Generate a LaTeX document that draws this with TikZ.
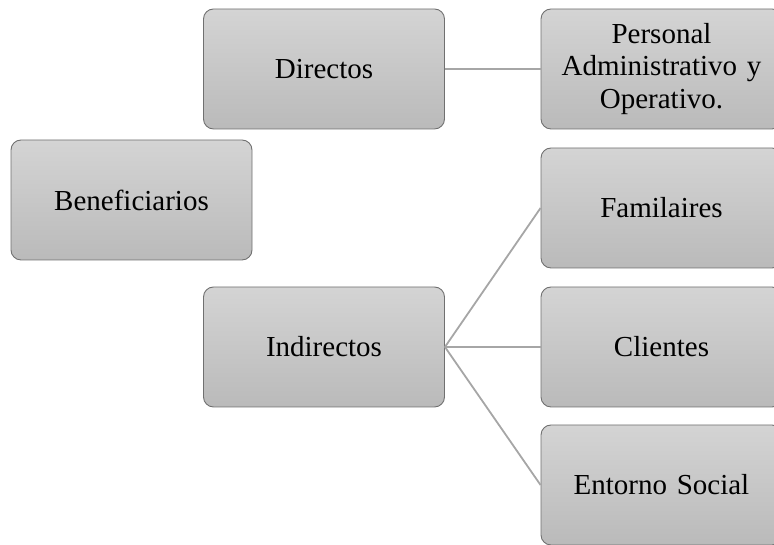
\documentclass[tikz,border=0pt]{standalone}
\usepackage{fontspec}
\setmainfont{Liberation Serif}
\definecolor{boxtop}{HTML}{D4D4D4}
\definecolor{boxbot}{HTML}{BABABA}
\definecolor{boxline}{HTML}{707070}
\definecolor{conn}{HTML}{A6A6A6}
\begin{document}
\begin{tikzpicture}[x=1pt,y=1pt,
  box/.style={rectangle, rounded corners=10pt, draw=boxline, line width=0.9pt,
    top color=boxtop, bottom color=boxbot, minimum width=241pt, minimum height=120pt,
    text width=225pt, align=center, inner sep=0pt,
    font=\fontsize{29}{32.5}\selectfont},
  conn/.style={draw=conn, line width=1.8pt}]
\useasboundingbox (0,0) rectangle (774,545);
\clip (0,0) rectangle (774,545);
\node[box] (ben) at (131.5,345) {Beneficiarios};
\node[box] (dir) at (324,476) {Directos};
\node[box] (per) at (661.5,476) {Personal\\Administrativo y\\Operativo.};
\node[box] (ind) at (324,198) {Indirectos};
\node[box] (fam) at (661.5,337) {Familaires};
\node[box] (cli) at (661.5,198) {Clientes};
\node[box] (ent) at (661.5,60) {Entorno Social};
\draw[conn] (dir.east) -- (per.west);
\draw[conn] (ind.east) -- (fam.west);
\draw[conn] (ind.east) -- (cli.west);
\draw[conn] (ind.east) -- (ent.west);
\end{tikzpicture}
\end{document}
